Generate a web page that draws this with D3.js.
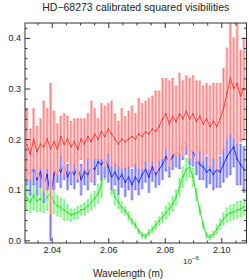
<!DOCTYPE html>
<html>
<head>
<meta charset="utf-8">
<script src="https://cdn.jsdelivr.net/npm/d3@7"></script>
<style>
  body { margin: 0; background: #fff; }
  text { font-family: "Liberation Sans", Arial, sans-serif; }
</style>
</head>
<body>
<script>
// spectral channels (micron)
let wave = [2.0312, 2.0324, 2.0336, 2.0348, 2.0360, 2.0372, 2.0384, 2.0396, 2.0408, 2.0420,
  2.0432, 2.0444, 2.0456, 2.0468, 2.0480, 2.0492, 2.0504, 2.0516, 2.0528, 2.0540,
  2.0552, 2.0564, 2.0576, 2.0588, 2.0600, 2.0612, 2.0624, 2.0636, 2.0648, 2.0660,
  2.0672, 2.0684, 2.0696, 2.0708, 2.0720, 2.0732, 2.0744, 2.0756, 2.0768, 2.0780,
  2.0792, 2.0804, 2.0816, 2.0828, 2.0840, 2.0852, 2.0864, 2.0876, 2.0888, 2.0900,
  2.0912, 2.0924, 2.0936, 2.0948, 2.0960, 2.0972, 2.0984, 2.0996, 2.1008, 2.1020,
  2.1032, 2.1044, 2.1056, 2.1068, 2.1080]

let v2Red = [0.19, 0.17, 0.2, 0.175, 0.19, 0.185, 0.2, 0.18, 0.195, 0.18,
  0.205, 0.19, 0.2, 0.185, 0.195, 0.18, 0.2, 0.19, 0.205, 0.195,
  0.21, 0.2, 0.215, 0.205, 0.22, 0.21, 0.2, 0.19, 0.2, 0.195,
  0.2, 0.205, 0.2, 0.21, 0.205, 0.215, 0.21, 0.22, 0.215, 0.225,
  0.24, 0.25, 0.23, 0.245, 0.235, 0.25, 0.24, 0.255, 0.24, 0.25,
  0.235, 0.245, 0.23, 0.24, 0.225, 0.235, 0.225, 0.24, 0.26, 0.29,
  0.32, 0.3, 0.31, 0.285, 0.3]
let errRed = [0.07, 0.05, 0.06, 0.05, 0.05, 0.09, 0.06, 0.13, 0.06, 0.05, 0.04, 0.06, 0.045,
  0.05, 0.045, 0.06, 0.04, 0.05, 0.045, 0.08, 0.05, 0.04, 0.055, 0.06, 0.05, 0.065,
  0.05, 0.045, 0.06, 0.05, 0.055, 0.06, 0.05, 0.07, 0.065, 0.06, 0.07, 0.065, 0.08,
  0.07, 0.08, 0.07, 0.085, 0.075, 0.07, 0.08, 0.075, 0.07, 0.08, 0.075, 0.08, 0.07,
  0.075, 0.07, 0.08, 0.075, 0.085, 0.07, 0.08, 0.09, 0.11, 0.1, 0.12, 0.09, 0.1]

let v2Blue = [0.14, 0.125, 0.15, 0.12, 0.135, 0.11, 0.13, 0.085, 0.13, 0.145,
  0.135, 0.15, 0.125, 0.14, 0.13, 0.145, 0.12, 0.135, 0.13, 0.145,
  0.14, 0.155, 0.15, 0.16, 0.145, 0.125, 0.135, 0.12, 0.13, 0.115,
  0.125, 0.11, 0.125, 0.115, 0.13, 0.14, 0.125, 0.145, 0.13, 0.14,
  0.15, 0.165, 0.155, 0.165, 0.175, 0.17, 0.19, 0.195, 0.18, 0.175,
  0.16, 0.15, 0.145, 0.135, 0.14, 0.13, 0.14, 0.135, 0.15, 0.165,
  0.175, 0.185, 0.16, 0.15, 0.14]
let errBlue = [0.03, 0.035, 0.04, 0.03, 0.03, 0.035, 0.03, 0.085, 0.03, 0.03, 0.03,
  0.03, 0.025, 0.03, 0.028, 0.03, 0.03, 0.025, 0.03, 0.028, 0.03, 0.025,
  0.03, 0.035, 0.03, 0.025, 0.025, 0.03, 0.025, 0.028, 0.025, 0.03, 0.025,
  0.025, 0.028, 0.025, 0.03, 0.028, 0.025, 0.03, 0.03, 0.028, 0.03, 0.025,
  0.03, 0.028, 0.03, 0.025, 0.03, 0.028, 0.03, 0.03, 0.025, 0.03, 0.028,
  0.03, 0.035, 0.03, 0.035, 0.04, 0.045, 0.04, 0.05, 0.04, 0.045]

let v2Green = [0.085, 0.075, 0.09, 0.078, 0.082, 0.075, 0.085, 0.095, 0.075, 0.068,
  0.065, 0.06, 0.055, 0.05, 0.052, 0.055, 0.06, 0.062, 0.068, 0.075,
  0.082, 0.092, 0.11, 0.15, 0.165, 0.11, 0.085, 0.075, 0.065, 0.058,
  0.048, 0.038, 0.03, 0.018, 0.01, 0.008, 0.015, 0.022, 0.03, 0.038,
  0.046, 0.055, 0.062, 0.072, 0.085, 0.105, 0.125, 0.14, 0.145, 0.125,
  0.09, 0.06, 0.03, 0.01, 0.006, 0.012, 0.022, 0.032, 0.042, 0.05,
  0.054, 0.056, 0.06, 0.062, 0.066]
let errGreen = [0.025, 0.02, 0.03, 0.022, 0.025, 0.02, 0.025, 0.05, 0.022, 0.02, 0.018, 0.02, 0.015,
  0.012, 0.01, 0.012, 0.01, 0.012, 0.012, 0.015, 0.015, 0.018,
  0.025, 0.03, 0.03,
  0.02, 0.015, 0.012, 0.01, 0.008, 0.008, 0.006, 0.006, 0.005,
  0.005, 0.005, 0.006, 0.006, 0.008, 0.008, 0.01, 0.012, 0.012,
  0.014, 0.015, 0.018, 0.02, 0.022, 0.02,
  0.018, 0.012, 0.008, 0.006, 0.005, 0.005, 0.006, 0.008,
  0.01, 0.012, 0.014, 0.015, 0.015, 0.016, 0.015, 0.016]

let xTicks = [2.04, 2.06, 2.08, 2.10]
let yTicks = [0.0, 0.1, 0.2, 0.3, 0.4]

let
  width = 249,
  height = 280

let margin = { top: 23, left: 25, right: 2.5, bottom: 37 }
let chartWidth = width - margin.left - margin.right
let chartHeight = height - margin.top - margin.bottom

let svg = d3.select('body')
  .append('svg')
  .attr('width', width)
  .attr('height', height)
  .style('background', '#fff')

let x = d3.scaleLinear()
  .domain([2.03055, 2.10892])
  .range([0, chartWidth])

let y = d3.scaleLinear()
  .domain([-0.0053, 0.4295])
  .range([chartHeight, 0])

let chart = svg.append('g')
  .attr('transform', `translate(${margin.left}, ${margin.top})`)

chart.append('clipPath')
  .attr('id', 'plotclip')
  .append('rect')
  .attr('width', chartWidth)
  .attr('height', chartHeight)

let plot = chart.append('g').attr('clip-path', 'url(#plotclip)')

let series = [
  { vals: v2Green, errs: errGreen, line: '#22dd22', bar: '#5aee5a', fill: '#c2ffc2' },
  { vals: v2Blue, errs: errBlue, line: '#1a1aff', bar: '#5a5aff', fill: '#c0c0ff' },
  { vals: v2Red, errs: errRed, line: '#ff2c2c', bar: '#ff6a6a', fill: '#ffc4c4' }
]

series.forEach(s => {
  let pts = wave.map((w, i) => ({ w: w, v: s.vals[i], e: s.errs[i] }))
  let g = plot.append('g')

  g.selectAll('rect.band')
    .data(pts)
    .enter()
    .append('rect')
    .attr('x', d => x(d.w) - 1.6)
    .attr('y', d => y(d.v + d.e))
    .attr('width', 3.2)
    .attr('height', d => y(d.v - d.e) - y(d.v + d.e))
    .attr('fill', s.fill)

  g.selectAll('line.err')
    .data(pts)
    .enter()
    .append('line')
    .attr('x1', d => x(d.w))
    .attr('x2', d => x(d.w))
    .attr('y1', d => y(d.v - d.e))
    .attr('y2', d => y(d.v + d.e))
    .attr('stroke', s.bar)
    .attr('stroke-width', 0.8)

  ;['lo', 'hi'].forEach(k => {
    g.selectAll('line.cap' + k)
      .data(pts)
      .enter()
      .append('line')
      .attr('x1', d => x(d.w) - 1)
      .attr('x2', d => x(d.w) + 1)
      .attr('y1', d => y(k === 'lo' ? d.v - d.e : d.v + d.e))
      .attr('y2', d => y(k === 'lo' ? d.v - d.e : d.v + d.e))
      .attr('stroke', s.bar)
      .attr('stroke-width', 0.8)
  })

  g.append('path')
    .datum(pts)
    .attr('fill', 'none')
    .attr('stroke', s.line)
    .attr('stroke-width', 0.9)
    .attr('d', d3.line().x(d => x(d.w)).y(d => y(d.v)))

  g.selectAll('circle')
    .data(pts)
    .enter()
    .append('circle')
    .attr('cx', d => x(d.w))
    .attr('cy', d => y(d.v))
    .attr('r', 0.8)
    .attr('fill', s.line)
})

// axes, ticks inward on all four sides
let xMinor = d3.range(2.035, 2.109, 0.005).filter(v => Math.abs(v * 50 - Math.round(v * 50)) > 1e-6)
let yMinor = d3.range(0, 0.43, 0.02).filter(v => Math.abs(v * 10 - Math.round(v * 10)) > 1e-6)

function addAxis(axis, tx, ty, vals, size, fmt) {
  let a = chart.append('g')
    .attr('transform', `translate(${tx}, ${ty})`)
    .call(axis.tickValues(vals).tickSize(-size).tickSizeOuter(0).tickPadding(4).tickFormat(fmt))
  a.select('.domain').remove()
  a.selectAll('line').attr('stroke', '#333')
  a.selectAll('text').attr('font-size', '9px').attr('fill', '#222')
    .style('font-family', '"Liberation Sans", Arial, sans-serif')
  return a
}

addAxis(d3.axisBottom(x), 0, chartHeight, xTicks, 5, d3.format('.2f'))
addAxis(d3.axisBottom(x), 0, chartHeight, xMinor, 2.5, () => '')
addAxis(d3.axisTop(x), 0, 0, xTicks, 5, () => '')
addAxis(d3.axisTop(x), 0, 0, xMinor, 2.5, () => '')
addAxis(d3.axisLeft(y), 0, 0, yTicks, 5, d3.format('.1f'))
addAxis(d3.axisLeft(y), 0, 0, yMinor, 2.5, () => '')
addAxis(d3.axisRight(y), chartWidth, 0, yTicks, 5, () => '')
addAxis(d3.axisRight(y), chartWidth, 0, yMinor, 2.5, () => '')

chart.append('rect')
  .attr('width', chartWidth)
  .attr('height', chartHeight)
  .attr('fill', 'none')
  .attr('stroke', '#333')
  .attr('stroke-width', 1)

svg.append('text')
  .attr('x', margin.left + chartWidth / 2)
  .attr('y', 11)
  .attr('text-anchor', 'middle')
  .attr('font-size', '10.5px')
  .attr('fill', '#222')
  .text('HD\u221268273 calibrated squared visibilities')

let expo = svg.append('text')
  .attr('x', 183)
  .attr('y', 264)
  .attr('font-size', '8px')
  .attr('fill', '#222')
expo.append('tspan').text('10')
expo.append('tspan').attr('dy', -4).attr('font-size', '6px').text('\u22126')

svg.append('text')
  .attr('x', 128)
  .attr('y', 277)
  .attr('text-anchor', 'middle')
  .attr('font-size', '10px')
  .attr('fill', '#222')
  .text('Wavelength (m)')
</script>
</body>
</html>
